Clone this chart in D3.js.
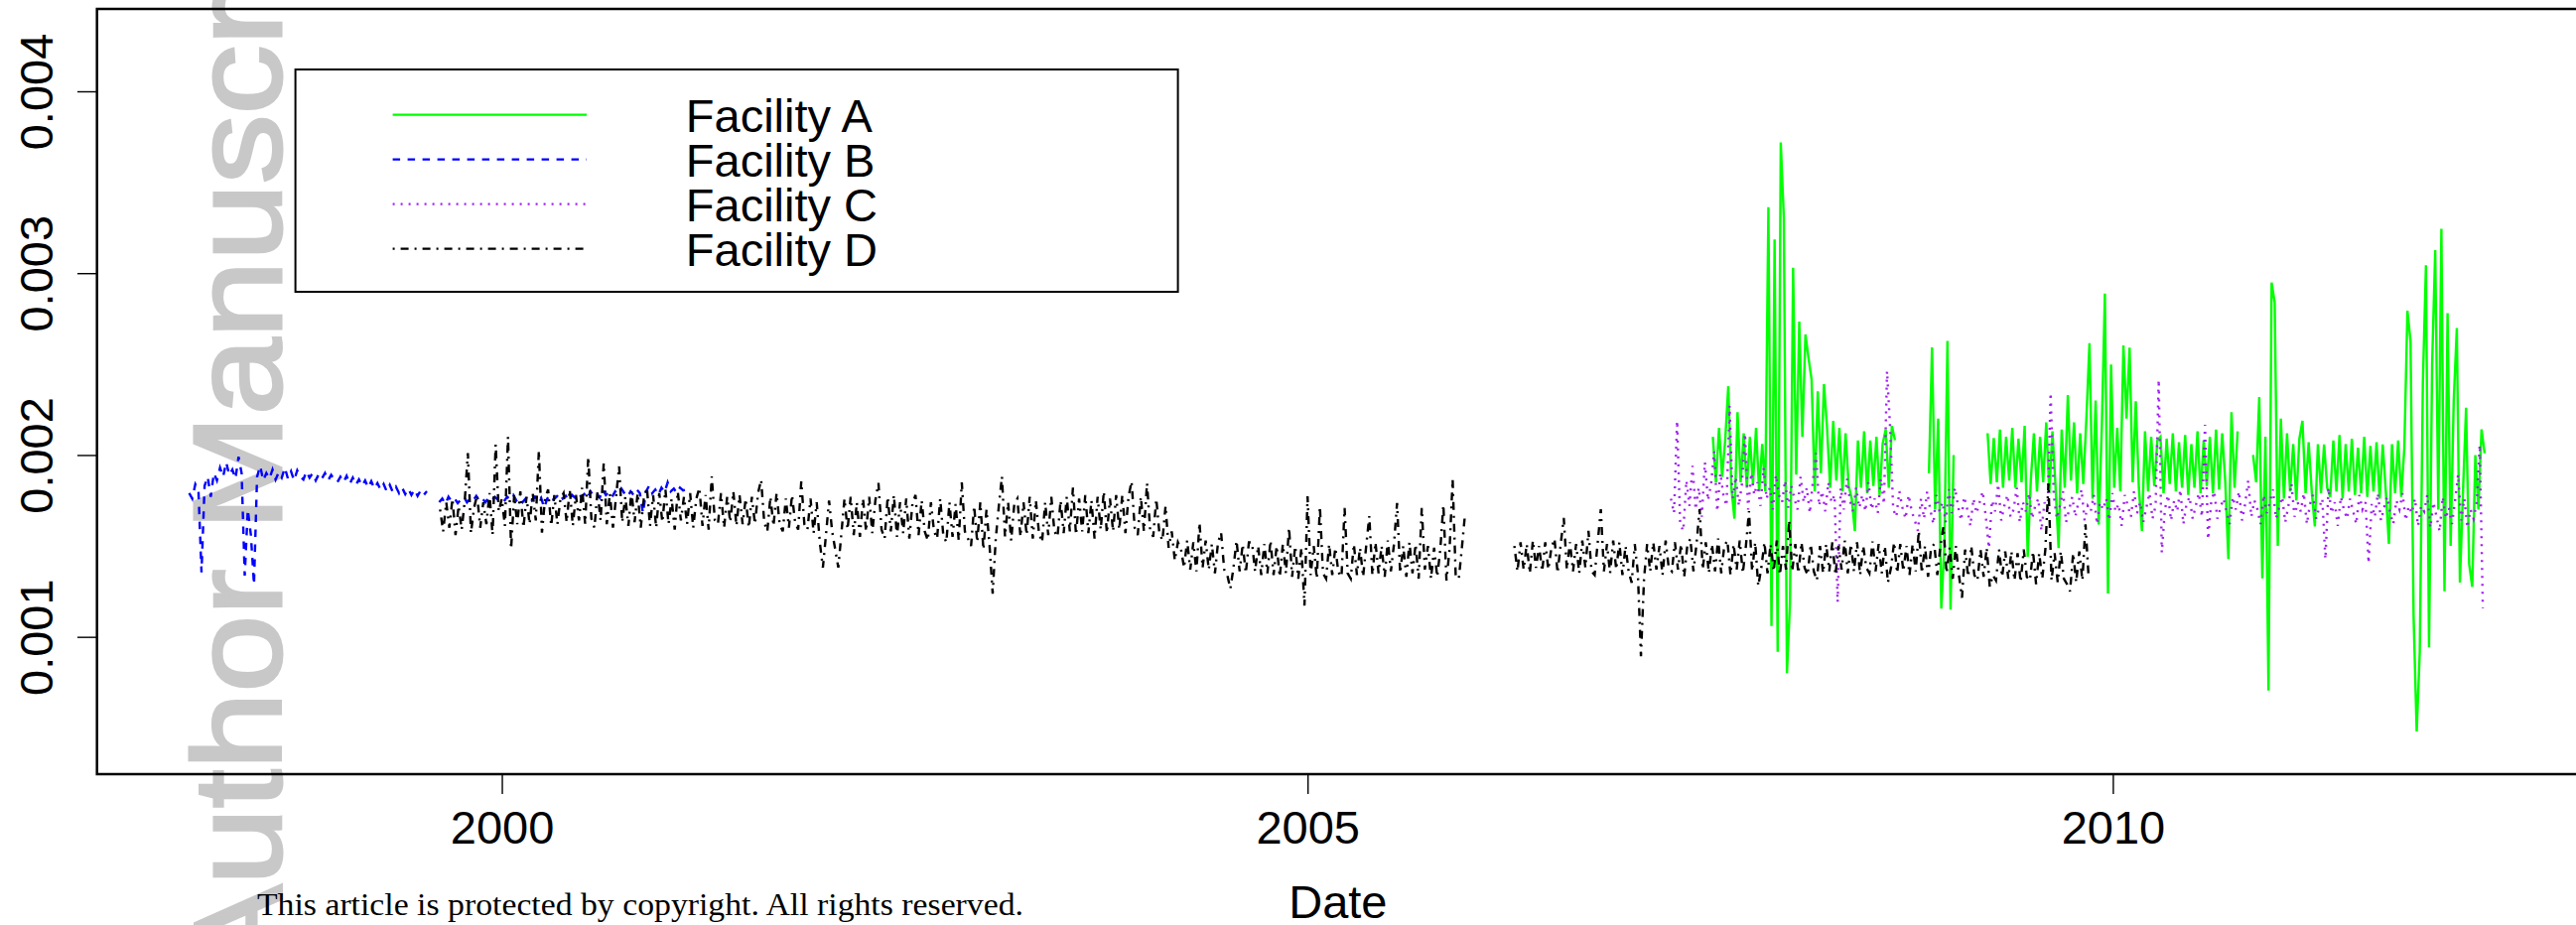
<!DOCTYPE html>
<html>
<head>
<meta charset="utf-8">
<script src="https://cdn.jsdelivr.net/npm/d3@7"></script>
<style>
  body { margin: 0; background: #fff; }
  svg { display: block; }
</style>
</head>
<body>
<div id="chart"></div>
<script>
// series names and styles (R default-ish: green solid, blue dashed, purple dotted, black dot-dash)
const seriesNames = ["Facility A", "Facility B", "Facility C", "Facility D"];
const seriesColors = ["#00ff00", "#0000ff", "#a020f0", "#000000"];
const seriesDash = [null, "7.5,7.5", "2,6", "2,6,8,6"];

// first date of each series, values are weekly after that (null = no data)
const startDates = ["2007-07-09", "1998-01-22", "2007-04-05", "1999-08-14"];

// all values below are x 1e-6
const facilityA = [
  2100, 1850, 2150, 1880, 2080, 2378, 1820, 1650,
  2235, 1850, 2120, 1820, 2100, 1840, 2150, 1800, 2060,
  1800, 3363, 1060, 3185, 918, 3719, 3303, 800, 1191, 3030, 1892, 2734, 2100, 2663, 2532, 2414, 1800, 2350, 1900, 2390,
  2150, 1820, 2188, 1860, 2150, 1800, 2120, 1830, 1760, 1583, 2080, 1820, 2130, 1790, 2080, 1830, 2100, 1780, 2060, 2140, 1820, 2160, 2081,
  null, null, null, null, null, null, null, null, null, null,
  1900, 2592, 1700, 2200, 1155, 1500, 2627, 1150, 2000,
  null, null, null, null, null, null, null, null, null, null,
  2120, 1840, 2093, 1850, 2140, 1820, 2100, 1860, 2150, 1820, 2090, 1850, 2160, 1441, 1860, 2120, 1800, 2100, 1850, 2180,
  1790, 2130, 1830, 1488, 2140, 1820, 2330, 1860, 2180, 1790, 2120, 1840, 2200, 2615, 1760, 2300, 1618, 2150, 2888, 1239,
  2497, 1820, 2150, 1800, 2603, 2200, 2590, 1850, 2295, 1820, 1583, 2130, 1800, 2100, 1830, 2080, 2100, 1790, 2090, 1840,
  2120, 1800, 2070, 1820, 2110, 1780, 2060, 1820, 2130, 1790, 2080, 1830, 2100, 1790, 2140, 1810, 2120, 1850, 1428, 2235,
  1820, 2130,
  null, null, null, null,
  2000, 1850, 2319, 1322, 2100, 705, 2948, 2840, 1500, 2200, 1760, 2120, 1800, 2060, 1750, 2090, 2188, 1790, 2070, 1800,
  1607, 2060, 1790, 2058, 1820, 1770, 2080, 1800, 2110, 1760, 2060, 1800, 2090, 1780, 2040, 1790, 2100, 1770, 2050, 1800,
  2070, 1760, 2058, 1800, 1512, 2060, 1790, 2080, 1770, 2040, 2793, 2627, 1108, 480, 918, 2400, 3043, 942, 2500, 3126,
  1700, 3244, 1251, 2780, 1500, 2300, 2698, 1298, 1800, 2260, 1400, 1275, 2000, 1700, 2141, 2010
];

const facilityB = [
  1790, 1760, 1840, 1810, 1355, 1830, 1880, 1770, 1900, 1860, 1930, 1880, 1960, 1890, 1920, 1870, 1990, 1900, 1337, 1700,
  1560, 1287, 1880, 1940, 1860, 1900, 1870, 1920, 1865, 1905, 1875, 1930, 1870, 1910, 1860, 1915, 1880, 1865, 1910, 1875,
  1900, 1860, 1895, 1870, 1900, 1860, 1890, 1865, 1850, 1880, 1850, 1885, 1840, 1875, 1835, 1865, 1830, 1860, 1820, 1855,
  1815, 1845, 1810, 1840, 1800, 1835, 1795, 1825, 1790, 1820, 1785, 1815, 1780, 1810, 1775, 1805, 1780, 1800,
  null, null, null,
  1740, 1760, 1730, 1770, 1745, 1760, 1735, 1755, 1770, 1740, 1760, 1750, 1775, 1745, 1760, 1740, 1765, 1750, 1770, 1755,
  1760, 1745, 1770, 1755, 1780, 1750, 1765, 1740, 1760, 1775, 1750, 1770, 1745, 1765, 1710, 1760, 1780, 1755, 1770, 1790,
  1760, 1775, 1750, 1780, 1765, 1790, 1770, 1785, 1760, 1800, 1775, 1790, 1765, 1810, 1780, 1795, 1770, 1800, 1785, 1815,
  1790, 1770, 1800, 1780, 1810, 1790, 1680, 1800, 1830, 1790, 1810, 1780, 1820, 1795, 1849, 1800, 1815, 1790, 1820, 1805,
  1810
];

const facilityC = [
  1760, 1680, 2188, 1620, 1583, 1860, 1720, 1940, 1700, 1820, 1660, 1960, 1750, 1840, 2020, 1690, 1900, 1780, 1720, 2271,
  1760, 1880, 1720, 1840, 2117, 1700, 1900, 1780, 1850, 1720, 1930, 1760, 1820, 1700, 1890, 1780, 1740, 1860, 1710, 1830,
  1760, 1700, 1880, 1740, 1820, 1680, 1860, 2010, 1720, 1800, 1690, 1850, 1740, 1780, 1191, 1820, 1700, 1870, 1750, 1690,
  1820, 1710, 1780, 1690, 1850, 1700, 1760, 1680, 1870, 1730, 2461, 2150, 1700, 1660, 1800, 1710, 1650, 1780, 1690, 1640,
  1583, 1760, 1650, 1800, 1700, 1620, 1780, 1690, 1740, 1630, 1810, 1680, 1820, 1720, 1640, 1770, 1700, 1610, 1760, 1680,
  1740, 1800, 1660, 1488, 1750, 1690, 1840, 1640, 1720, 1780, 1660, 1700, 1820, 1630, 1740, 1690, 1790, 1650, 1720, 1760,
  1583, 1740, 1680, 2342, 1780, 1650, 1720, 1800, 1630, 1700, 1770, 1660, 1740, 1810, 1640, 1720, 1690, 1780, 1620, 1740,
  1700, 1760, 1640, 1790, 1690, 1730, 1610, 1780, 1720, 1660, 1800, 1680, 1740, 1630, 1710, 1790, 1650, 1720, 2414, 1464,
  1700, 1780, 1640, 1750, 1690, 1810, 1620, 1730, 1770, 1650, 1720, 1790, 1660, 2166, 1536, 1740, 1800, 1650, 1710, 1760,
  1690, 1620, 1770, 1700, 1800, 1640, 1730, 1860, 1660, 1750, 1700, 1620, 1780, 1680, 1740, 1810, 1650, 1710, 1770, 1630,
  1720, 1844, 1660, 1740, 1690, 1790, 1620, 1730, 1780, 1650, 1710, 1760, 1428, 1820, 1680, 1740, 1610, 1770, 1700, 1650,
  1760, 1690, 1620, 1780, 1700, 1740, 1405, 1730, 1660, 1790, 1640, 1710, 1770, 1680, 1620, 1750, 1700, 1790, 1640, 1720,
  1680, 1760, 1610, 1720, 1690, 1780, 1600, 1740, 1660, 1580, 1770, 1650, 1710, 1620, 1750, 1892, 1640, 1760, 1600, 1700,
  1650, 1740, 2056, 1156
];

const facilityD = [
  1700, 1580, 1740, 1600, 1760, 1560, 1720, 1590, 1750, 2010, 1570, 1710, 1780, 1600, 1740, 1620, 1790, 1560, 2057, 1690,
  1760, 1610, 2100, 1483, 1780, 1620, 1800, 1600, 1770, 1620, 1790, 1640, 2024, 1573, 1760, 1810, 1610, 1780, 1620, 1760,
  1790, 1630, 1810, 1610, 1780, 1640, 1820, 1620, 1990, 1650, 1600, 1800, 1640, 1955, 1620, 1790, 1600, 1770, 1937, 1630,
  1770, 1610, 1800, 1630, 1790, 1600, 1760, 1820, 1610, 1780, 1600, 1790, 1630, 1810, 1620, 1760, 1590, 1800, 1640, 1770,
  1620, 1790, 1600, 1760, 1820, 1610, 1780, 1590, 1882, 1640, 1620, 1790, 1600, 1770, 1630, 1800, 1610, 1780, 1620, 1760,
  1600, 1770, 1620, 1790, 1864, 1630, 1580, 1770, 1610, 1790, 1620, 1580, 1760, 1600, 1780, 1630, 1590, 1855, 1620, 1590,
  1760, 1570, 1740, 1520, 1381, 1560, 1750, 1580, 1480, 1381, 1570, 1760, 1590, 1770, 1560, 1740, 1550, 1760, 1580, 1770,
  1570, 1750, 1846, 1590, 1540, 1770, 1580, 1780, 1550, 1740, 1570, 1760, 1540, 1730, 1780, 1560, 1750, 1580, 1530, 1740,
  1580, 1540, 1760, 1560, 1520, 1740, 1550, 1730, 1530, 1849, 1580, 1540, 1500, 1720, 1520, 1740, 1480, 1700, 1500, 1238,
  1540, 1720, 1882, 1550, 1740, 1530, 1730, 1760, 1550, 1740, 1560, 1770, 1540, 1750, 1570, 1520, 1740, 1560, 1770, 1580,
  1550, 1750, 1570, 1770, 1580, 1820, 1560, 1760, 1580, 1780, 1570, 1750, 1540, 1770, 1590, 1800, 1570, 1760, 1580, 1780,
  1590, 1780, 1570, 1770, 1855, 1600, 1560, 1770, 1580, 1846, 1590, 1550, 1760, 1570, 1530, 1720, 1490, 1580, 1420, 1520,
  1483, 1380, 1530, 1370, 1520, 1360, 1628, 1380, 1530, 1370, 1510, 1350, 1520, 1573, 1370, 1340, 1264, 1380, 1530, 1360,
  1510, 1350, 1520, 1519, 1360, 1500, 1340, 1510, 1350, 1530, 1340, 1500, 1330, 1510, 1350, 1600, 1330, 1500, 1320, 1490,
  1172, 1773, 1340, 1500, 1320, 1718, 1350, 1320, 1510, 1340, 1490, 1354, 1330, 1709, 1350, 1320, 1510, 1340, 1490, 1330,
  1500, 1664, 1340, 1520, 1350, 1500, 1330, 1530, 1360, 1510, 1736, 1350, 1500, 1330, 1520, 1350, 1510, 1320, 1709, 1370,
  1500, 1320, 1490, 1330, 1480, 1727, 1310, 1480, 1866, 1330, 1320, 1490, 1673,
  null, null, null, null, null, null, null, null, null, null, null, null, null, null, null,
  1500, 1360, 1520, 1370, 1510, 1350, 1530, 1380, 1500, 1360, 1520, 1370, 1490, 1540, 1350, 1510, 1654, 1370, 1520, 1360,
  1510, 1350, 1530, 1380, 1583, 1360, 1340, 1520, 1702, 1360, 1510, 1350, 1530, 1370, 1520, 1340, 1500, 1360, 1298, 1510,
  1350, 894, 1320, 1510, 1360, 1520, 1370, 1500, 1340, 1530, 1380, 1360, 1520, 1370, 1510, 1330, 1500, 1540, 1360, 1510,
  1702, 1370, 1520, 1350, 1510, 1360, 1540, 1350, 1500, 1530, 1340, 1510, 1370, 1530, 1350, 1500, 1691, 1360, 1520, 1280,
  1380, 1520, 1350, 1510, 1360, 1530, 1340, 1500, 1370, 1642, 1360, 1510, 1350, 1520, 1380, 1340, 1510, 1360, 1310, 1500,
  1350, 1510, 1360, 1520, 1340, 1500, 1370, 1530, 1350, 1510, 1360, 1520, 1340, 1500, 1380, 1350, 1524, 1360, 1510, 1350,
  1500, 1298, 1380, 1520, 1350, 1510, 1360, 1500, 1340, 1510, 1360, 1583, 1350, 1500, 1330, 1490, 1510, 1340, 1500, 1607,
  1350, 1490, 1320, 1500, 1340, 1215, 1480, 1330, 1500, 1340, 1310, 1480, 1330, 1490, 1275, 1340, 1310, 1480, 1330, 1470,
  1320, 1470, 1310, 1460, 1300, 1480, 1330, 1310, 1470, 1290, 1460, 1320, 1480, 1844, 1310, 1460, 1300, 1470, 1320, 1290,
  1250, 1460, 1300, 1470, 1310, 1618, 1330
];

// axis ticks
const yTicks = [0.001, 0.002, 0.003, 0.004];
const yTickLabels = ["0.001", "0.002", "0.003", "0.004"];
const xTicks = ["2000-01-01", "2005-01-01", "2010-01-01"];
const xTickLabels = ["2000", "2005", "2010"];

const width = 2595, height = 932;
const plot = {left: 97.7, top: 9, right: 2598, bottom: 780};

const parseDate = d3.timeParse("%Y-%m-%d");

const svg = d3.select("#chart").append("svg")
    .attr("width", width)
    .attr("height", height)
    .style("font-family", "'Liberation Sans', Arial, sans-serif");

const x = d3.scaleTime()
    .domain([parseDate("1997-06-27"), parseDate("2012-11-23")])
    .range([plot.left, plot.right]);

const y = d3.scaleLinear()
    .domain([0.000245, 0.004453])
    .range([plot.bottom, plot.top]);

// watermark behind everything
svg.append("text")
    .attr("transform", "translate(283,985) rotate(-90) scale(1.1,1)")
    .attr("font-size", 127)
    .attr("fill", "#c8c8c8")
    .attr("stroke", "#c8c8c8")
    .attr("stroke-width", 3)
    .text("Author Manuscript");

// build the point lists
const allSeries = [facilityA, facilityB, facilityC, facilityD].map((vals, s) => {
    const start = parseDate(startDates[s]);
    return vals.map((v, i) => ({date: d3.timeDay.offset(start, i * 7), value: v}));
});

svg.append("defs").append("clipPath").attr("id", "plotclip")
    .append("rect")
    .attr("x", plot.left).attr("y", plot.top)
    .attr("width", plot.right - plot.left).attr("height", plot.bottom - plot.top);

const line = d3.line()
    .defined(d => d.value !== null)
    .x(d => x(d.date))
    .y(d => y(d.value / 1e6));

const lines = svg.append("g").attr("clip-path", "url(#plotclip)");
allSeries.forEach((pts, s) => {
    lines.append("path")
        .datum(pts)
        .attr("d", line)
        .attr("fill", "none")
        .attr("stroke", seriesColors[s])
        .attr("stroke-width", 2.4)
        .attr("stroke-dasharray", seriesDash[s]);
});

// box
svg.append("rect")
    .attr("x", plot.left).attr("y", plot.top)
    .attr("width", plot.right - plot.left).attr("height", plot.bottom - plot.top)
    .attr("fill", "none")
    .attr("stroke", "black")
    .attr("stroke-width", 2.5);

// y axis, labels rotated like R's las=0
const yAxis = svg.append("g")
    .attr("transform", "translate(" + plot.left + ",0)")
    .call(d3.axisLeft(y).tickValues(yTicks).tickSize(19.7).tickFormat((d, i) => yTickLabels[i]));
yAxis.select(".domain").remove();
yAxis.selectAll("line").attr("stroke", "black").attr("stroke-width", 1.4);
yAxis.selectAll("text")
    .attr("transform", "rotate(-90)")
    .attr("x", 0).attr("y", -44.7).attr("dy", null)
    .attr("text-anchor", "middle")
    .attr("font-size", 47)
    .attr("fill", "black")
    .style("font-family", "'Liberation Sans', Arial, sans-serif");

// x axis
const xAxis = svg.append("g")
    .attr("transform", "translate(0," + plot.bottom + ")")
    .call(d3.axisBottom(x).tickValues(xTicks.map(parseDate)).tickSize(20).tickFormat((d, i) => xTickLabels[i]));
xAxis.select(".domain").remove();
xAxis.selectAll("line").attr("stroke", "black").attr("stroke-width", 1.4);
xAxis.selectAll("text")
    .attr("y", 70).attr("dy", null)
    .attr("font-size", 47)
    .attr("fill", "black")
    .style("font-family", "'Liberation Sans', Arial, sans-serif");

svg.append("text")
    .attr("x", (plot.left + plot.right) / 2)
    .attr("y", 925)
    .attr("text-anchor", "middle")
    .attr("font-size", 47)
    .text("Date");

svg.append("text")
    .attr("x", 259)
    .attr("y", 922)
    .attr("font-size", 31)
    .attr("textLength", 772)
    .attr("lengthAdjust", "spacingAndGlyphs")
    .style("font-family", "'Liberation Serif', 'DejaVu Serif', serif")
    .text("This article is protected by copyright. All rights reserved.");

// legend
const legend = svg.append("g");
legend.append("rect")
    .attr("x", 297.6).attr("y", 70)
    .attr("width", 889).attr("height", 224)
    .attr("fill", "white")
    .attr("stroke", "black")
    .attr("stroke-width", 2);

seriesNames.forEach((name, s) => {
    const ly = 115.7 + s * 45;
    legend.append("line")
        .attr("x1", 395.6).attr("x2", 591)
        .attr("y1", ly).attr("y2", ly)
        .attr("stroke", seriesColors[s])
        .attr("stroke-width", 2.2)
        .attr("stroke-dasharray", seriesDash[s]);
    legend.append("text")
        .attr("x", 690.8)
        .attr("y", ly + 17)
        .attr("font-size", 47)
        .text(name);
});
</script>
</body>
</html>
